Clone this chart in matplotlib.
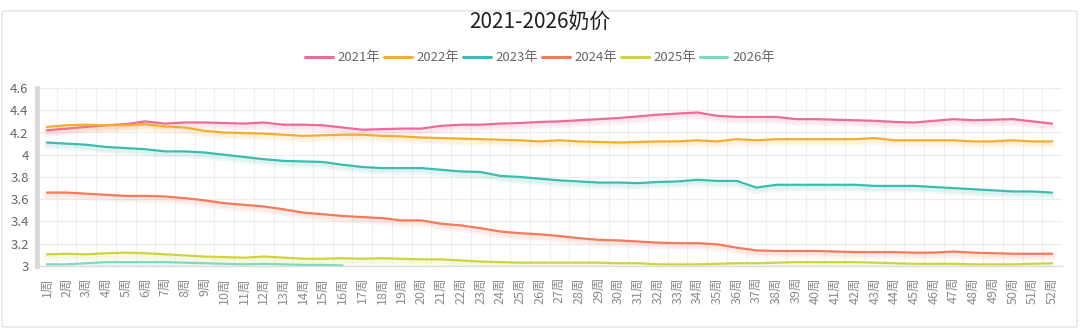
import matplotlib
matplotlib.use("Agg")
import matplotlib.pyplot as plt
import matplotlib.patheffects as pe
from matplotlib.patches import FancyBboxPatch
import numpy as np

plt.rcParams['font.family'] = ['Noto Sans CJK SC', 'DejaVu Sans']

weeks = [f"{i}周" for i in range(1, 53)]

y2021 = [4.22, 4.235, 4.25, 4.265, 4.275, 4.30, 4.28, 4.29, 4.29, 4.285, 4.28, 4.29, 4.27, 4.27, 4.265,
         4.245, 4.225, 4.23, 4.235, 4.235, 4.26, 4.27, 4.27, 4.28, 4.285, 4.295, 4.30, 4.31, 4.32, 4.33,
         4.345, 4.36, 4.37, 4.38, 4.35, 4.34, 4.34, 4.34, 4.32, 4.32, 4.315, 4.31, 4.305, 4.295, 4.29,
         4.305, 4.32, 4.31, 4.315, 4.32, 4.30, 4.28]
y2022 = [4.25, 4.265, 4.27, 4.265, 4.265, 4.275, 4.255, 4.245, 4.215, 4.20, 4.195, 4.19, 4.18, 4.17, 4.175,
         4.18, 4.18, 4.17, 4.165, 4.155, 4.15, 4.145, 4.14, 4.135, 4.13, 4.12, 4.13, 4.12, 4.115, 4.11,
         4.115, 4.12, 4.12, 4.13, 4.12, 4.14, 4.13, 4.14, 4.14, 4.14, 4.14, 4.14, 4.15, 4.13, 4.13,
         4.13, 4.13, 4.12, 4.12, 4.13, 4.12, 4.12]
y2023 = [4.11, 4.10, 4.09, 4.07, 4.06, 4.05, 4.03, 4.03, 4.02, 4.00, 3.98, 3.96, 3.945, 3.94, 3.935,
         3.91, 3.89, 3.88, 3.88, 3.88, 3.865, 3.85, 3.845, 3.81, 3.80, 3.785, 3.77, 3.76, 3.75, 3.75,
         3.745, 3.755, 3.76, 3.775, 3.765, 3.765, 3.705, 3.73, 3.73, 3.73, 3.73, 3.73, 3.72, 3.72, 3.72,
         3.71, 3.70, 3.69, 3.68, 3.67, 3.67, 3.66]
y2024 = [3.66, 3.66, 3.65, 3.64, 3.63, 3.63, 3.625, 3.61, 3.59, 3.565, 3.55, 3.535, 3.51, 3.48, 3.465,
         3.45, 3.44, 3.43, 3.41, 3.41, 3.38, 3.365, 3.34, 3.31, 3.295, 3.285, 3.27, 3.25, 3.235, 3.23,
         3.22, 3.21, 3.205, 3.205, 3.195, 3.165, 3.14, 3.135, 3.135, 3.135, 3.13, 3.125, 3.125, 3.125, 3.12,
         3.12, 3.13, 3.12, 3.115, 3.11, 3.11, 3.11]
y2025 = [3.105, 3.11, 3.105, 3.115, 3.12, 3.115, 3.105, 3.095, 3.085, 3.08, 3.075, 3.085, 3.075, 3.065, 3.065,
         3.07, 3.065, 3.07, 3.065, 3.06, 3.06, 3.05, 3.04, 3.035, 3.03, 3.03, 3.03, 3.03, 3.03, 3.025,
         3.025, 3.015, 3.015, 3.015, 3.02, 3.025, 3.025, 3.03, 3.035, 3.035, 3.035, 3.035, 3.03, 3.025, 3.02,
         3.02, 3.02, 3.015, 3.015, 3.015, 3.02, 3.025]
y2026 = [3.015, 3.015, 3.025, 3.035, 3.035, 3.035, 3.035, 3.03, 3.025, 3.02, 3.015, 3.02, 3.015, 3.01, 3.01,
         3.005]

series_names = ["2021年", "2022年", "2023年", "2024年", "2025年", "2026年"]
series_data = [y2021, y2022, y2023, y2024, y2025, y2026]
colors = ["#ec6a9c", "#f5ad2c", "#3abcae", "#f57a5c", "#cdd43e", "#7fd8c0"]

yticks = [3, 3.2, 3.4, 3.6, 3.8, 4, 4.2, 4.4, 4.6]
ytick_labels = ["3", "3.2", "3.4", "3.6", "3.8", "4", "4.2", "4.4", "4.6"]

W, H = 1080, 329
fig = plt.figure(figsize=(W / 100, H / 100), dpi=100)
fig.patch.set_facecolor("white")

# outer border
border = FancyBboxPatch((2 / W, 2 / H), 1075 / W, 316 / H,
                        boxstyle="round,pad=0,rounding_size=0.004",
                        transform=fig.transFigure, fill=False,
                        edgecolor="#e3e3e3", linewidth=1.0)
fig.patches.append(border)

ax = fig.add_axes([37 / W, 1 - 266 / H, (1062 - 37) / W, (266 - 88) / H])
x = np.arange(1, 53)

for name, vals, c in zip(series_names, series_data, colors):
    xs = x[:len(vals)]
    ax.plot(xs, vals, color=c, linewidth=1.6, label=name, solid_capstyle="round",
            path_effects=[pe.SimpleLineShadow(offset=(0, -2.5), shadow_color=c, alpha=0.09, linewidth=4.5),
                          pe.SimpleLineShadow(offset=(0, -2), shadow_color=c, alpha=0.08, linewidth=2.5),
                          pe.Normal()])

ax.set_xlim(0.5, 52.5)
ax.set_ylim(3, 4.6)
ax.set_yticks(yticks)
ax.set_yticklabels(ytick_labels)
ax.set_xticks(x)
ax.set_xticklabels(weeks, rotation=90)
ax.set_xticks(np.arange(0.5, 53, 1), minor=True)

ax.grid(False)
ax.grid(which="minor", axis="x", color="#efefef", linewidth=0.8)
ax.grid(which="major", axis="y", color="#ececec", linewidth=0.8)
ax.set_axisbelow(True)

ax.tick_params(axis="x", which="both", length=0, pad=8, labelsize=9, labelcolor="#8a8a8a")
ax.tick_params(axis="y", which="both", length=0, pad=6, labelsize=9.5, labelcolor="#666666")

for s in ["top", "right"]:
    ax.spines[s].set_visible(False)
ax.spines["bottom"].set_color("#dddddd")
ax.spines["bottom"].set_linewidth(1.0)
ax.spines["left"].set_color("#d9d9d9")
ax.spines["left"].set_linewidth(3.5)

fig.text(540 / W, 1 - 22 / H, "2021-2026奶价", ha="center", va="center",
         fontsize=15, color="#222222")

leg = fig.legend(loc="center", bbox_to_anchor=(540 / W, 1 - 58 / H), ncol=6, frameon=False,
                 fontsize=9.5, handlelength=2.1, handletextpad=0.35, columnspacing=0.3,
                 labelcolor="#666666")
for h in leg.legend_handles:
    h.set_linewidth(2.2)
    h.set_path_effects([])

fig.savefig("out.png", dpi=100, facecolor="white")
